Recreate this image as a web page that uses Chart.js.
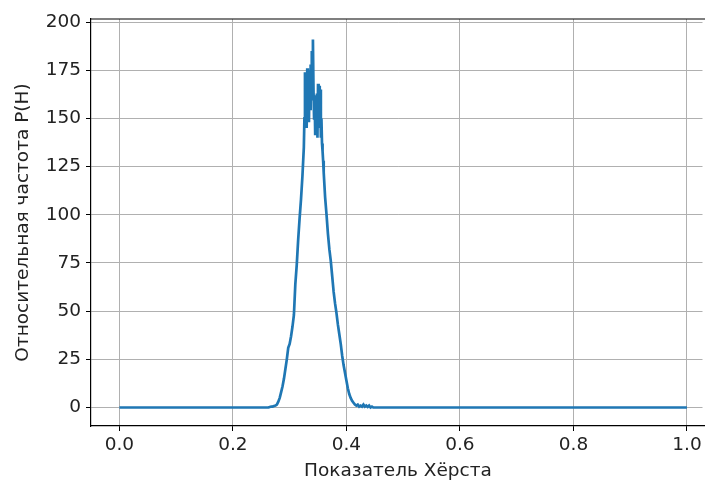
<!DOCTYPE html>
<html><head><meta charset="utf-8">
<script src="https://cdn.jsdelivr.net/npm/chart.js@4"></script>
<style>html,body{margin:0;padding:0;background:#fff;overflow:hidden}canvas{display:block}</style>
</head><body><canvas id="c" width="705" height="482" style="width:705px;height:482px"></canvas>
<script>
const hurstX = [0.0,0.2600,0.2625,0.2650,0.2675,0.2700,0.2725,0.2750,0.2775,0.2800,0.2825,0.2850,0.2875,0.2900,0.2925,0.2950,0.2975,0.3000,0.3025,0.3050,0.3075,0.3100,0.3125,0.3150,0.3175,0.3200,0.3225,0.3250,
 0.326,0.327,0.328,0.329,0.330,0.331,0.332,0.333,0.334,0.335,0.336,0.337,0.338,0.339,0.340,0.341,0.342,0.343,0.344,0.345,0.346,0.347,0.348,0.349,0.350,0.351,0.352,0.353,0.354,0.355,0.356,0.357,0.358,0.359,0.360,
 0.3625,0.3650,0.3675,0.3700,0.3725,0.3750,0.3775,0.3800,0.3825,0.3850,0.3875,0.3900,0.3925,0.3950,0.3975,0.4000,0.4025,0.4050,0.4075,0.4100,0.4125,0.4150,0.4175,0.4200,0.4225,0.4250,0.4275,0.4300,0.4325,0.4350,0.4375,0.4400,0.4425,0.4450,0.4475,1.0];
const freqP = [0,0,0,0.3,0.5,0.5,0.8,1,1.5,3,5,8,11,15,20,25,31,33,37,42,48,64,74,87,98,108,120,135,
 150,174,150,172,145,176,160,174,148,175,155,178,160,185,170,191,165,150,162,142,160,145,163,140,168,150,167,145,165,140,150,137,133,128,122,
 109,100,90,82,76,68,60,54,49,43,38,33,27,22,18,14,10,7,5,3.5,2.5,1.5,1,1.5,0.5,1,0.5,1.5,0.5,1,0.3,1,0,0.5,0,0];
const xTicks = [0.0,0.2,0.4,0.6,0.8,1.0];
const yTicks = [0,25,50,75,100,125,150,175,200];
const xTitle = 'Показатель Хёрста';
const yTitle = 'Относительная частота P(H)';

const FONT = 'DejaVu Sans';
const FS = 18.5;
const frame = {id:'frame', afterDraw(ch){const a=ch.chartArea,c=ch.ctx;c.save();
  c.fillStyle='#fff';c.fillRect(a.right-2.5,a.top+1.5,20,a.bottom-a.top-3);
  c.strokeStyle='#000';c.lineWidth=1.2;c.beginPath();c.moveTo(a.left,a.top);c.lineTo(a.right+10,a.top);c.stroke();c.restore();}};
new Chart(document.getElementById('c'), {
  type:'line',
  data:{datasets:[{data:hurstX.map((x,i)=>({x:x,y:freqP[i]})),borderColor:'#1f77b4',borderWidth:2.7,pointRadius:0,tension:0,fill:false}]},
  options:{responsive:false,animation:false,
    layout:{padding:{top:19,right:0,left:12,bottom:0}},
    plugins:{legend:{display:false},tooltip:{enabled:false}},
    scales:{
      x:{type:'linear',min:-0.05,max:1.0318,
        afterBuildTicks(s){s.ticks=xTicks.map(v=>({value:v}));},
        afterFit(s){s.height=56;},
        ticks:{color:'#222',font:{family:FONT,size:FS},padding:3,maxRotation:0,autoSkip:false,callback:v=>v.toFixed(1)},
        grid:{color:'#b0b0b0',lineWidth:1,tickLength:5,tickColor:'#000'},
        border:{display:true,color:'#000',width:1.2},
        title:{display:true,text:xTitle,color:'#222',font:{family:FONT,size:FS},padding:{top:0,bottom:0}}},
      y:{type:'linear',min:-9.6,max:201.6,
        afterBuildTicks(s){s.ticks=yTicks.map(v=>({value:v}));},
        afterFit(s){s.width=79;},
        ticks:{color:'#222',font:{family:FONT,size:FS},padding:5,autoSkip:false},
        grid:{color:'#b0b0b0',lineWidth:1,tickLength:5,tickColor:'#000'},
        border:{display:true,color:'#000',width:1.2},
        title:{display:true,text:yTitle,color:'#222',font:{family:FONT,size:FS},padding:{top:0,bottom:0}}}
    }},
  plugins:[frame]
});
</script></body></html>
